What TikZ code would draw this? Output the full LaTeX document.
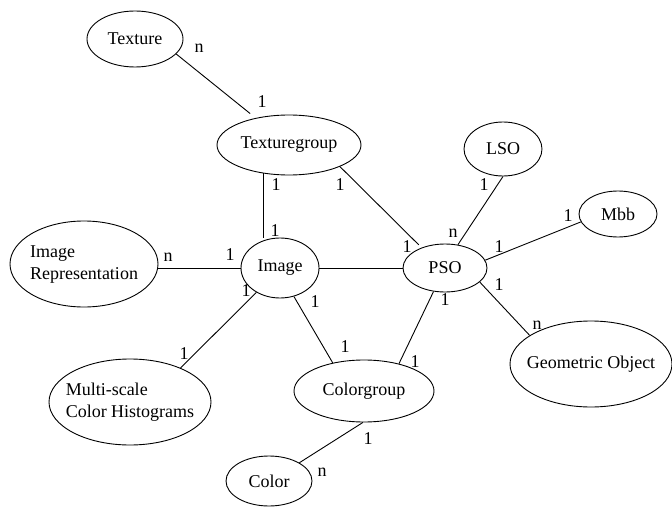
\documentclass[tikz,border=0pt]{standalone}
\usepackage{fontspec}
\setmainfont{Liberation Serif}
\usetikzlibrary{shapes.geometric}
\begin{document}
\begin{tikzpicture}[x=1pt,y=-1pt,
  font=\fontsize{18}{22}\selectfont,
  ent/.style={draw, ellipse, inner sep=0pt, line width=0.9pt},
  card/.style={inner sep=0pt},
  rel/.style={line width=0.9pt}]
\useasboundingbox (0,0) rectangle (672,508);
% entities
\node[ent, minimum width=96pt, minimum height=56pt] (tex) at (135,39) {\makebox[0pt]{Texture}};
\node[ent, minimum width=144pt, minimum height=60pt] (tg) at (289,145) {\makebox[0pt]{Texturegroup}};
\node[ent, minimum width=78pt, minimum height=54pt] (lso) at (503,149) {\makebox[0pt]{LSO}};
\node[ent, minimum width=78pt, minimum height=46pt] (mbb) at (618,214) {\makebox[0pt]{Mbb}};
\node[ent, minimum width=148pt, minimum height=86pt] (rep) at (84,264) {\makebox[0pt]{\begin{tabular}{@{}l@{}}Image\\Representation\end{tabular}}};
\node[ent, minimum width=78pt, minimum height=60pt] (img) at (280,268) {\makebox[0pt]{Image}};
\node[ent, minimum width=84pt, minimum height=48pt] (pso) at (445,268) {\makebox[0pt]{PSO}};
\node[ent, minimum width=162pt, minimum height=86pt] (ms) at (130,402) {\makebox[0pt]{\begin{tabular}{@{}l@{}}Multi-scale\\Color Histograms\end{tabular}}};
\node[ent, minimum width=140pt, minimum height=62pt] (cg) at (364,391) {\makebox[0pt]{Colorgroup}};
\node[ent, minimum width=162pt, minimum height=86pt] (geo) at (591,364) {\makebox[0pt]{Geometric Object}};
\node[ent, minimum width=86pt, minimum height=50pt] (col) at (269,481) {\makebox[0pt]{Color}};
% relationships
\draw[rel, shorten >=7pt] (tex.-20) -- (tg.141);
\draw[rel] (tg.-132) -- (tg.-132 |- img.north);
\draw[rel, shorten >=4pt] (tg.-23.5) -- (pso.139.6);
\draw[rel] (lso.-90) -- (pso.61);
\draw[rel] (mbb.-168) -- (pso.11);
\draw[rel] (pso.-22) -- (geo.155);
\draw[rel] (pso.-116.6) -- (cg.38.5);
\draw[rel] (img.-64) -- (cg.138);
\draw[rel] (cg.-92) -- (col.31);
\draw[rel] (img.-134) -- (ms.34);
\draw[rel] (img.west) -- (img.west -| rep.east);
\draw[rel] (img.east) -- (pso.west);
% cardinalities
\node[card] (c1) at (199,48) {n};
\node[card] (c2) at (262,102) {1};
\node[card] (c3) at (276,185) {1};
\node[card] (c4) at (340,185) {1};
\node[card] (c5) at (275,231) {1};
\node[card] (c6) at (168,257) {n};
\node[card] (c7) at (230,255) {1};
\node[card] (c8) at (246,291) {1};
\node[card] (c9) at (184,354) {1};
\node[card] (c10) at (315,302) {1};
\node[card] (c11) at (345,347) {1};
\node[card] (c12) at (415,362) {1};
\node[card] (c13) at (445,300) {1};
\node[card] (c14) at (499,285) {1};
\node[card] (c15) at (537,325) {n};
\node[card] (c16) at (368,439) {1};
\node[card] (c17) at (322,472) {n};
\node[card] (c18) at (407,247) {1};
\node[card] (c19) at (453,233) {n};
\node[card] (c20) at (484,185) {1};
\node[card] (c21) at (568,216) {1};
\node[card] (c22) at (499,247) {1};
\end{tikzpicture}
\end{document}
